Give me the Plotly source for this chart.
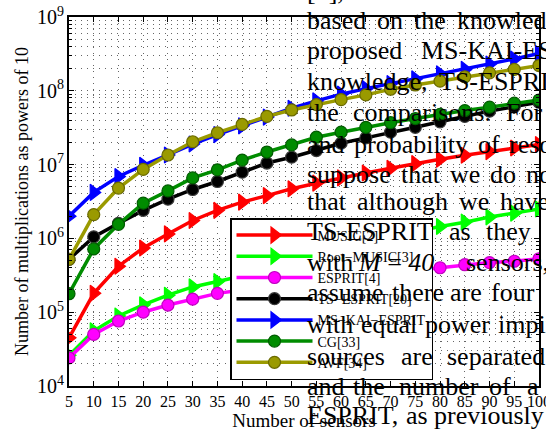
import plotly.graph_objects as go

# ---------------- data ----------------
sensors = [5, 10, 15, 20, 25, 30, 35, 40, 45, 50, 55, 60, 65, 70, 75, 80, 85, 90, 95, 100]

music = [4.5e4, 1.8e5, 4.2e5, 7.4e5, 1.15e6, 1.75e6, 2.4e6, 3.1e6, 3.8e6, 4.7e6,
         5.6e6, 6.6e6, 7.7e6, 8.9e6, 1.03e7, 1.18e7, 1.34e7, 1.5e7, 1.68e7, 1.87e7]
root_music = [2.6e4, 5.6e4, 8.9e4, 1.26e5, 1.7e5, 2.2e5, 2.6e5, 3.1e5, 3.8e5, 4.7e5,
              5.8e5, 7.1e5, 8.7e5, 1.05e6, 1.25e6, 1.45e6, 1.66e6, 1.95e6, 2.2e6, 2.5e6]
esprit = [2.4e4, 5.0e4, 7.6e4, 1.0e5, 1.25e5, 1.5e5, 1.8e5, 2.0e5, 2.2e5, 2.4e5,
          2.65e5, 2.9e5, 3.15e5, 3.4e5, 3.7e5, 4.0e5, 4.4e5, 4.7e5, 4.9e5, 5.3e5]
ts_esprit = [5.2e5, 1.05e6, 1.6e6, 2.4e6, 3.4e6, 4.6e6, 5.9e6, 7.9e6, 1.05e7, 1.26e7,
             1.55e7, 1.95e7, 2.3e7, 2.75e7, 3.2e7, 3.8e7, 4.5e7, 5.3e7, 6.1e7, 7.0e7]
ms_kai_esprit = [2.0e6, 4.2e6, 6.9e6, 9.8e6, 1.35e7, 1.9e7, 2.55e7, 3.35e7, 4.4e7, 5.8e7,
                 7.3e7, 9.0e7, 1.07e8, 1.25e8, 1.45e8, 1.7e8, 1.95e8, 2.3e8, 2.7e8, 3.2e8]
cg = [1.78e5, 7.2e5, 1.55e6, 3.0e6, 4.4e6, 6.6e6, 8.5e6, 1.15e7, 1.48e7, 1.85e7,
      2.35e7, 2.75e7, 3.2e7, 3.7e7, 4.2e7, 4.8e7, 5.4e7, 6.0e7, 6.8e7, 7.5e7]
avf = [5.2e5, 2.1e6, 4.8e6, 8.6e6, 1.35e7, 2.04e7, 2.7e7, 3.5e7, 4.5e7, 5.5e7,
       6.5e7, 7.6e7, 8.8e7, 1.05e8, 1.2e8, 1.35e8, 1.55e8, 1.75e8, 1.95e8, 2.2e8]

series_names = ["MUSIC[2]", "Root\u2212MUSIC[3]", "ESPRIT[4]", "TS\u2212ESPRIT[20]",
                "MS\u2212KAI\u2212ESPRIT", "CG[33]", "AVF[34]"]
series_values = [music, root_music, esprit, ts_esprit, ms_kai_esprit, cg, avf]

# text of the page that shows through the figure (line by line, word by word)
page_lines = [
    ["[1],"],
    ["based", "on", "the", "knowledge"],
    ["proposed", "MS-KAI-ESPRIT"],
    ["knowledge,", "TS-ESPRIT"],
    ["the", "comparisons.", "For"],
    ["and", "probability", "of", "resolution"],
    ["suppose", "that", "we", "do", "not"],
    ["that", "although", "we", "have"],
    ["TS-ESPRIT", "as", "they"],
    ["with", "<i>M</i> = <i>40</i>", "sensors,"],
    ["assume", "there", "are", "four"],
    ["with", "equal", "power", "impinging"],
    ["sources", "are", "separated"],
    ["and", "the", "number", "of", "a"],
    ["ESPRIT,", "as", "previously"],
    ["number", "of", "the", "sources.", "The"],
]

# ---------------- styles ----------------
colors = ["#ff0000", "#00ff00", "#ff00ff", "#000000", "#0000ff", "#008c00", "#9a9a00"]
edge_colors = ["#ff0000", "#00ff00", "#c000c0", "#3a3a3a", "#0000ff", "#005c00", "#6a6a00"]
symbols = ["triangle-right", "triangle-right", "circle", "circle",
           "triangle-right", "circle", "circle"]
FONT = "Liberation Serif, Times New Roman, serif"

fig = go.Figure()
for name, vals, col, ecol, sym in zip(series_names, series_values, colors, edge_colors, symbols):
    fig.add_trace(go.Scatter(
        x=sensors, y=vals, name=name, mode="lines+markers",
        line=dict(color=col, width=3.5),
        marker=dict(symbol=sym, size=14 if sym.startswith("triangle") else 12,
                    color=col, line=dict(color=ecol, width=1.2)),
    ))

# plot area geometry in pixels
W, H = 546, 436
L, R, T, B = 69, 7, 17, 50
PW, PH = W - L - R, H - T - B


def px2paper(px, py):
    return (px - L) / PW, (H - B - py) / PH


line_centers = [-9, 21, 51, 82, 113, 144, 174, 202, 231, 262, 292, 324, 356, 386, 415, 446]
word_starts = [
    [306],
    [306, 376, 413, 456],
    [306, 420],
    [306, 438],
    [306, 352, 505],
    [306, 353, 477, 508],
    [306, 400, 449, 489, 525],
    [306, 356, 458, 499],
    [306, 448, 485],
    [306, 357, 465],
    [306, 391, 449, 490],
    [306, 360, 424, 497],
    [306, 400, 446],
    [306, 352, 398, 488, 526],
    [306, 405, 433],
    [306, 396, 425, 472, 537],
]

annotations = []
for words, xs, yc in zip(page_lines, word_starts, line_centers):
    for w, xpx in zip(words, xs):
        xp, yp = px2paper(xpx, yc)
        annotations.append(dict(
            text=w, x=xp, y=yp, xref="paper", yref="paper",
            xanchor="left", yanchor="middle", showarrow=False,
            font=dict(family=FONT, size=26, color="black"),
            borderpad=0,
        ))

grid_dash = "1px,5px"
grid_col = "rgba(0,0,0,0.6)"
fig.update_layout(
    width=W, height=H,
    margin=dict(l=L, r=R, t=T, b=B, pad=0, autoexpand=False),
    paper_bgcolor="white", plot_bgcolor="white",
    font=dict(family=FONT, size=16, color="black"),
    showlegend=True,
    legend=dict(
        x=px2paper(230, 218)[0], y=px2paper(230, 218)[1],
        xanchor="left", yanchor="top",
        bgcolor="white", bordercolor="black", borderwidth=1.5,
        font=dict(family=FONT, size=14, color="black"),
        itemwidth=76, tracegroupgap=0,
    ),
    annotations=annotations,
    xaxis=dict(
        range=[5, 100], tickmode="array", tickvals=sensors,
        ticks="inside", ticklen=5, tickcolor="black",
        showline=True, linecolor="black", linewidth=1.5, mirror="ticks",
        showgrid=True, gridcolor=grid_col, gridwidth=1, griddash=grid_dash,
        zeroline=False, automargin=False, ticklabeloverflow="allow",
        tickfont=dict(family=FONT, size=16),
        title=dict(text="Number of sensors", font=dict(family=FONT, size=19), standoff=4),
    ),
    yaxis=dict(
        type="log", range=[4, 9], dtick=1, exponentformat="power",
        ticks="inside", ticklen=5, tickcolor="black",
        showline=True, linecolor="black", linewidth=1.5, mirror="ticks",
        showgrid=True, gridcolor=grid_col, gridwidth=1, griddash=grid_dash,
        zeroline=False, automargin=False, ticklabeloverflow="allow",
        minor=dict(dtick="D1", ticks="inside", ticklen=3, tickcolor="black",
                   showgrid=True, gridcolor=grid_col, gridwidth=1,
                   griddash=grid_dash),
        tickfont=dict(family=FONT, size=16),
        title=dict(text="Number of multiplications as powers of 10",
                   font=dict(family=FONT, size=18), standoff=4),
    ),
)

fig.write_html("out.html",
               config={"displayModeBar": False},
               post_script="document.body.style.margin='0px';document.body.style.overflow='hidden';")
